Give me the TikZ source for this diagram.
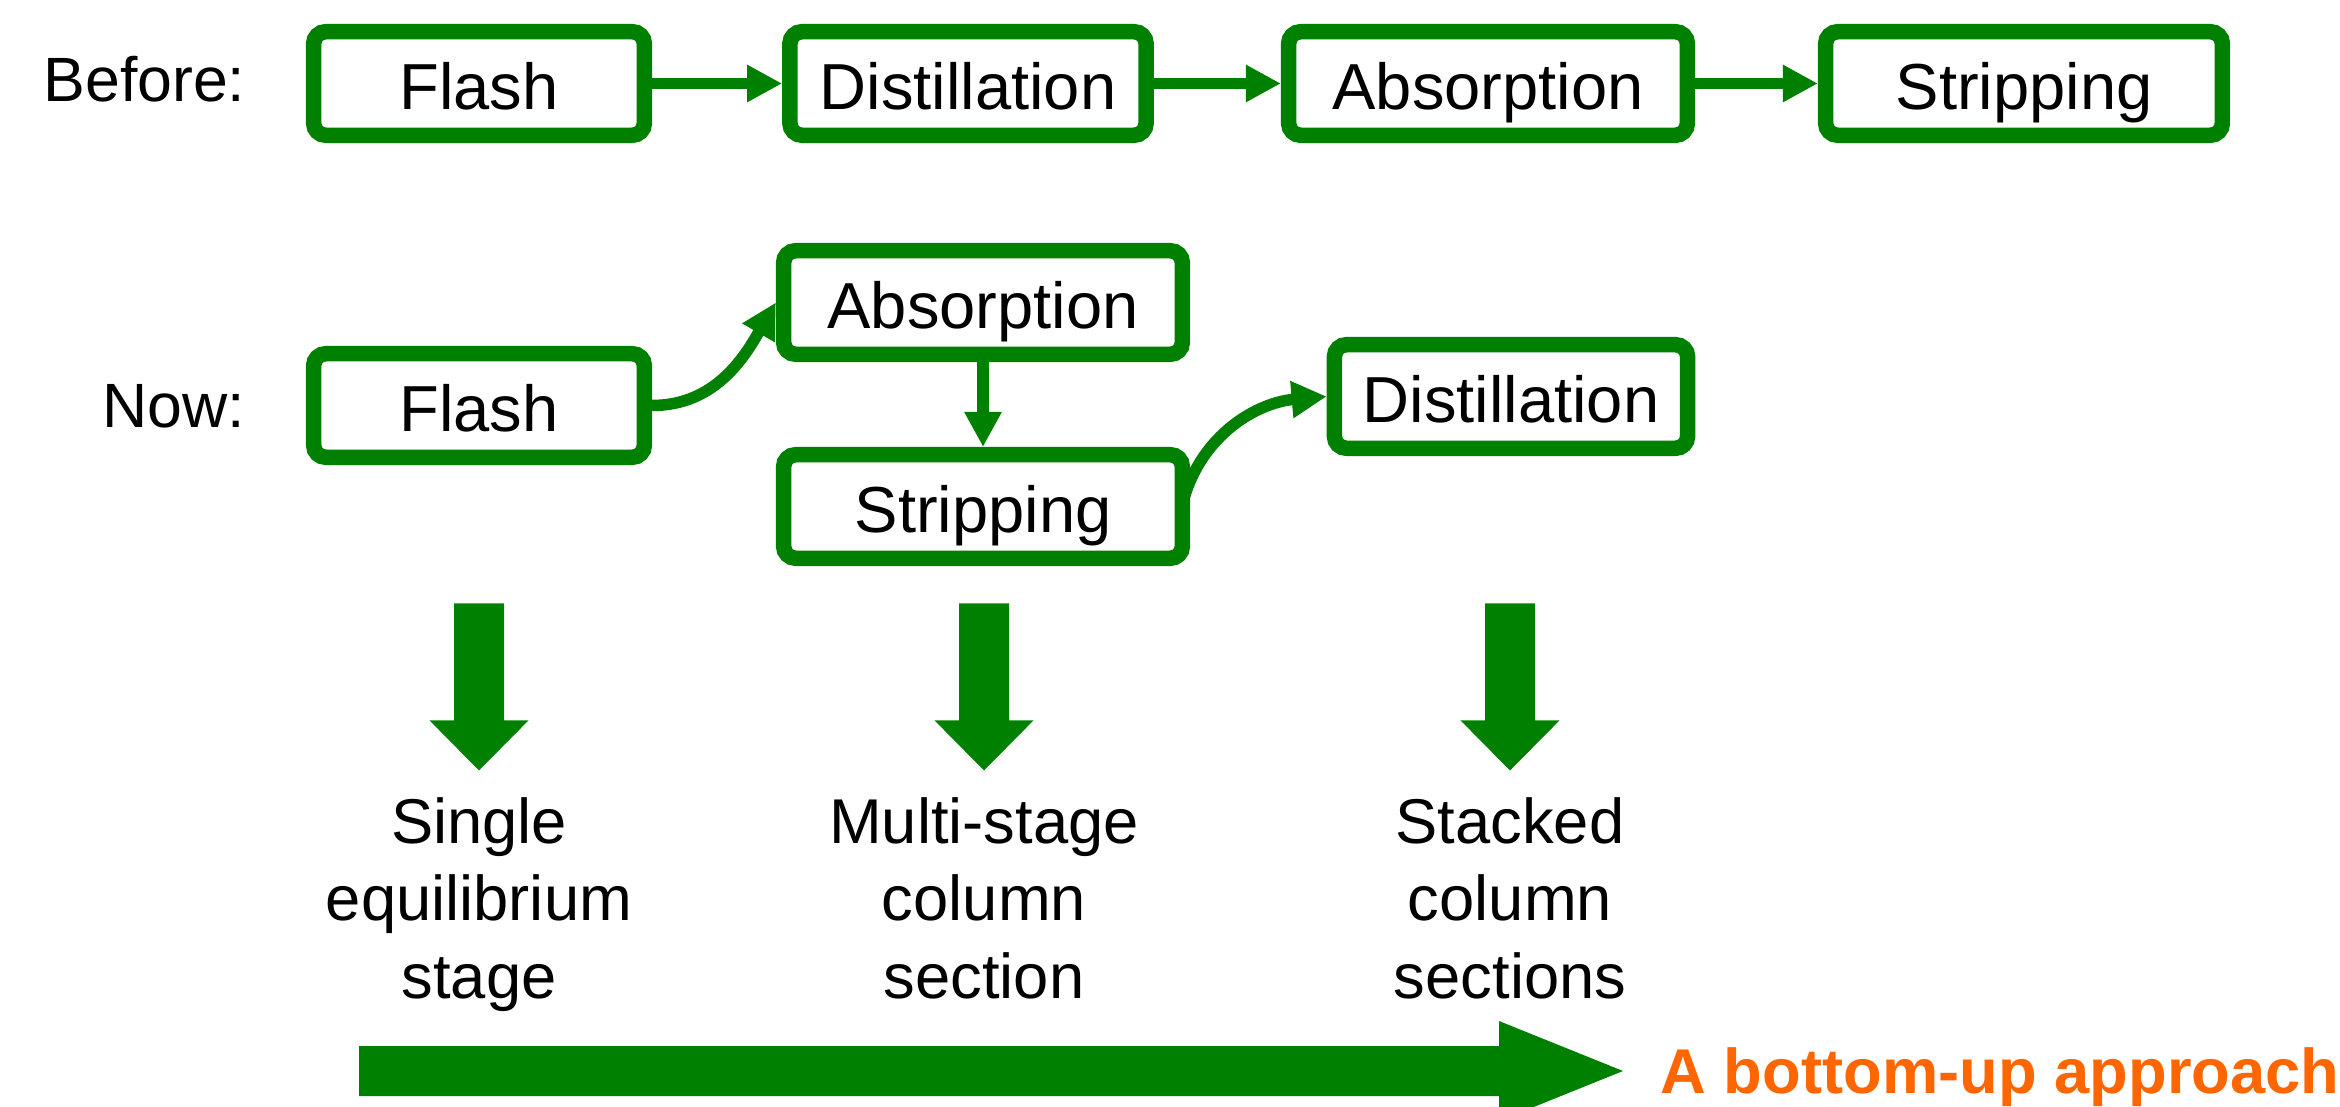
\documentclass[tikz,border=0pt]{standalone}
\usepackage{fontspec}
\setmainfont{Liberation Sans}
\usetikzlibrary{arrows.meta}
\definecolor{pgreen}{RGB}{0,128,0}
\definecolor{porange}{RGB}{255,102,0}
\begin{document}
\begin{tikzpicture}[x=0.01cm,y=-0.01cm,
  box/.style={draw=pgreen, line width=0.155cm, rounded corners=0.12cm, fill=white,
    inner sep=0pt, minimum height=1.035cm, text height=0.51cm, text depth=0pt,
    font=\fontsize{18.5}{22}\selectfont},
  flow/.style={draw=pgreen, line width=0.115cm, -{Triangle[length=0.35cm,width=0.35cm]}},
  lbl/.style={anchor=base east, inner sep=0pt, font=\fontsize{17.8}{22}\selectfont},
  desc/.style={anchor=north, align=center, inner sep=0pt, font=\fontsize{18}{22}\selectfont},
  bigarrow/.style={fill=pgreen},
  note/.style={anchor=base west, inner sep=0pt, text=porange, font=\fontsize{18}{22}\selectfont\bfseries},
]
\clip (0,0) rectangle (2340,1107);

% Before row
\node[lbl] (lbefore) at (246,102) {Before:};
\node[box, minimum width=3.305cm] (bflash) at (479,83.5) {Flash};
\node[box, minimum width=3.56cm]  (bdist)  at (968,83.5) {Distillation};
\node[box, minimum width=3.985cm] (babs)   at (1488,83.5) {Absorption};
\node[box, minimum width=3.965cm] (bstrip) at (2024,83.5) {Stripping};
\draw[flow] (bflash.east) -- (bdist.west);
\draw[flow] (bdist.east) -- (babs.west);
\draw[flow] (babs.east) -- (bstrip.west);

% Now row
\node[lbl] (lnow) at (246,428) {Now:};
\node[box, minimum width=3.305cm] (nflash) at (479,405.5) {Flash};
\node[box, minimum width=3.985cm] (nabs)   at (983,302.5) {Absorption};
\node[box, minimum width=3.985cm] (nstrip) at (983,506.5) {Stripping};
\node[box, minimum width=3.53cm]  (ndist)  at (1511,396.5) {Distillation};
\draw[flow] (nflash.east) to[out=0,in=240] (nabs.west);
\draw[flow] (nabs.south) -- (nstrip.north);
\draw[flow] ([xshift=-0.07cm,yshift=0.05cm]nstrip.east) to[out=75,in=185] (ndist.west);

% big down arrows
\foreach \c in {479,984,1510}{
  \fill[bigarrow] ({\c-25},603.5) -- ({\c+25},603.5) -- ({\c+25},720.4) -- ({\c+49.5},720.4)
     -- (\c,770.5) -- ({\c-49.5},720.4) -- ({\c-25},720.4) -- cycle;
}

% descriptions
\node[desc] (d1) at (479,797) {Single\\equilibrium\\stage};
\node[desc] (d2) at (984,797) {Multi-stage\\column\\section};
\node[desc] (d3) at (1510,797) {Stacked\\column\\sections};

% big right arrow
\fill[bigarrow] (359,1046) -- (1499,1046) -- (1499,1021) -- (1623,1071) -- (1499,1121)
   -- (1499,1096) -- (359,1096) -- cycle;
\node[note] (bu) at (1660,1093) {A bottom-up approach};
\end{tikzpicture}
\end{document}
